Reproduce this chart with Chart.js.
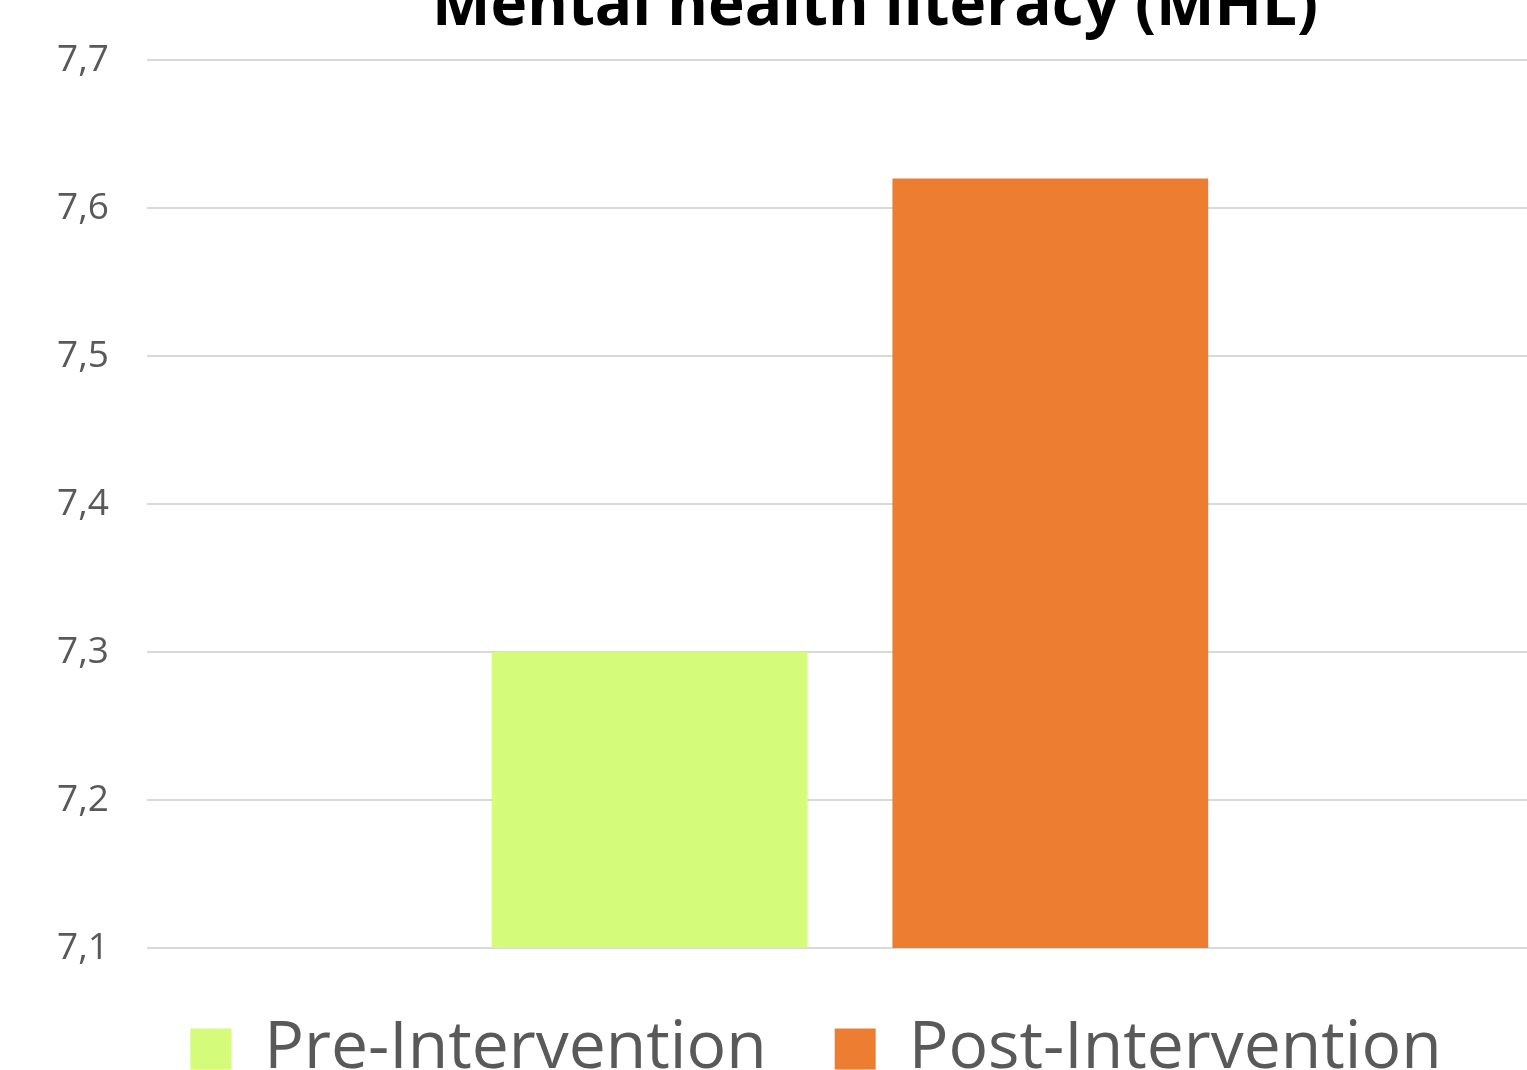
<!DOCTYPE html>
<html>
<head>
<meta charset="utf-8">
<script src="https://cdn.jsdelivr.net/npm/chart.js@4"></script>
<style>
    html, body { margin: 0; padding: 0; background: #fff; overflow: hidden; }
    #wrap { width: 1527px; height: 1070px; overflow: hidden; position: relative; }
    /* canvas is a bit bigger than the window, the original is cropped right and bottom */
    #box { width: 1553px; height: 1092px; position: absolute; left: 0; top: 0; }
</style>
</head>
<body>
<div id="wrap"><div id="box"><canvas id="chart"></canvas></div></div>
<script>
const chartTitle = 'Mental health literacy (MHL)';
const categories = [''];
const seriesNames = ['Pre-Intervention', 'Post-Intervention'];
const preValues = [7.3];
const postValues = [7.62];
const yMin = 7.1;
const yMax = 7.7;
const yStep = 0.1;

// title is cut off at the top in the original, so draw it by hand
const titlePlugin = {
    id: 'cutTitle',
    afterDraw(chart) {
        const ctx = chart.ctx;
        ctx.save();
        ctx.font = 'bold 62px "Open Sans"';
        ctx.fillStyle = '#000';
        ctx.textAlign = 'center';
        ctx.textBaseline = 'alphabetic';
        ctx.fillText(chartTitle, 875, 25, 886);
        ctx.restore();
    }
};

// legend sits a little right of the canvas centre
const legendShift = {
    id: 'legendShift',
    afterLayout(chart) {
        chart.legend.left += 30;
        chart.legend.right += 30;
    }
};

new Chart(document.getElementById('chart').getContext('2d'), {
    type: 'bar',
    data: {
        labels: categories,
        datasets: [{
            label: seriesNames[0],
            data: preValues,
            backgroundColor: '#d4fb79',
            barPercentage: 0.788,
            categoryPercentage: 0.57
        }, {
            label: seriesNames[1],
            data: postValues,
            backgroundColor: '#ed7d31',
            barPercentage: 0.788,
            categoryPercentage: 0.57
        }]
    },
    plugins: [titlePlugin, legendShift],
    options: {
        responsive: true,
        maintainAspectRatio: false,
        animation: false,
        layout: {
            padding: { top: 40, left: 19, right: 0, bottom: 0 }
        },
        plugins: {
            title: { display: false },
            tooltip: { enabled: false },
            legend: {
                position: 'bottom',
                labels: {
                    boxWidth: 41,
                    boxHeight: 41,
                    padding: 68,
                    color: '#595959',
                    font: { family: '"Open Sans"', size: 66 }
                }
            }
        },
        scales: {
            x: { display: false },
            y: {
                min: yMin,
                max: yMax,
                border: { display: false },
                grid: { color: '#d9d9d9', lineWidth: 2, drawTicks: false },
                ticks: {
                    stepSize: yStep,
                    padding: 38,
                    color: '#595959',
                    font: { family: '"Open Sans"', size: 37 },
                    callback: function (value) {
                        return value.toFixed(1).replace('.', ','); // десятичная запятая
                    }
                }
            }
        }
    }
});
</script>
</body>
</html>
